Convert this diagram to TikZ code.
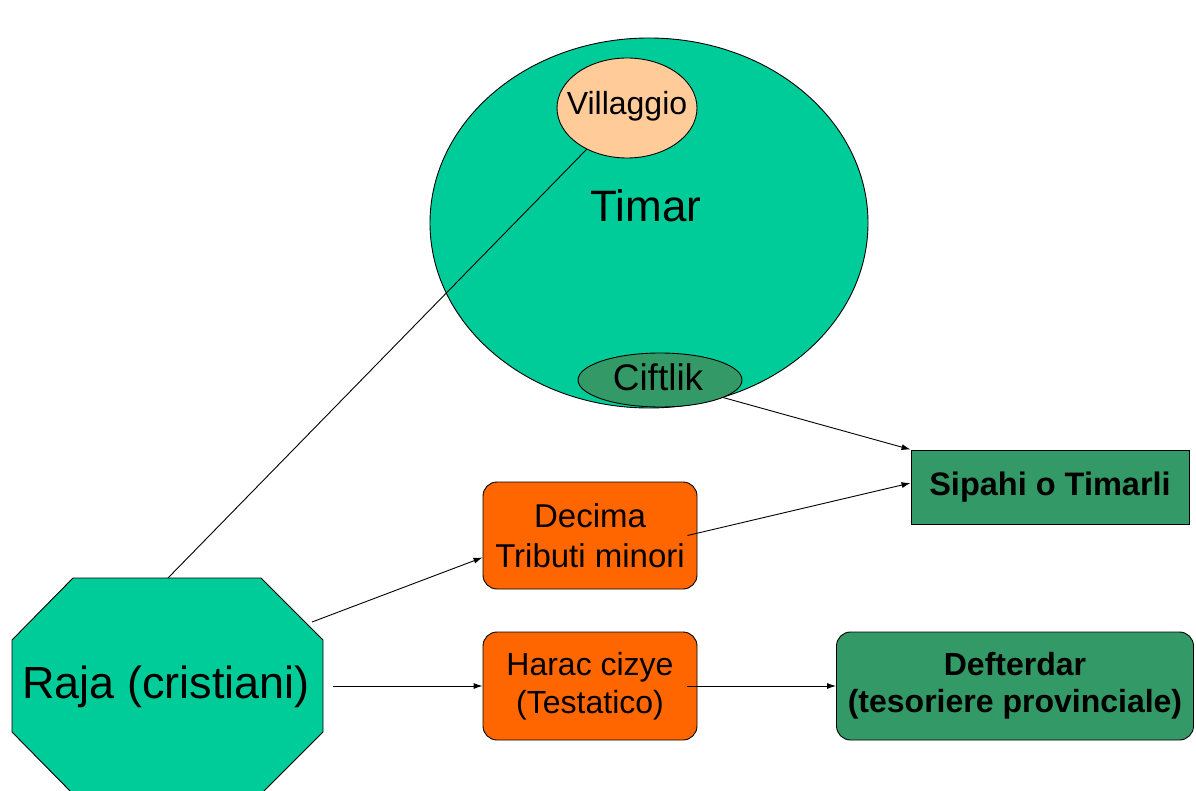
\documentclass[tikz,border=0pt]{standalone}
\usepackage{fontspec}
\setmainfont{Liberation Sans}
\usetikzlibrary{shapes.geometric,arrows.meta,calc}
\definecolor{tealfill}{HTML}{00CC99}
\definecolor{peachfill}{HTML}{FFCC99}
\definecolor{dgreenfill}{HTML}{339966}
\definecolor{orangefill}{HTML}{FF6600}
\begin{document}
\begin{tikzpicture}[x=1pt,y=-1pt,
  conn/.style={draw=black, line width=0.9pt},
  arr/.style={conn, -{Latex[length=9pt,width=6pt]}},
  outline/.style={draw=black, line width=0.9pt},
  rbox/.style={outline, rounded corners=14pt, inner sep=0pt, align=center},
  lbl/.style={anchor=base, inner sep=0pt},
  ell/.style={ellipse, outline, inner sep=0pt}]
\useasboundingbox (0,0) rectangle (1196,791);
\clip (0,0) rectangle (1196,791);

% Timar
\node[ell, fill=tealfill, minimum width=438, minimum height=370] (timar) at (649,223) {};
\node[lbl, font=\fontsize{44}{50}\selectfont] (timarlbl) at (646,222) {Timar};
% Villaggio
\node[ell, fill=peachfill, minimum width=140, minimum height=100] (vill) at (627,108) {};
\node[lbl, font=\fontsize{32}{38}\selectfont] (villlbl) at (627,115) {Villaggio};
% Ciftlik
\node[ell, fill=dgreenfill, minimum width=164, minimum height=54] (cif) at (660,380) {};
\node[lbl, font=\fontsize{37}{42}\selectfont] (ciflbl) at (658,390) {Ciftlik};

% Sipahi
\node[outline, fill=dgreenfill, minimum width=278, minimum height=74, inner sep=0pt,
      font=\fontsize{32.5}{38}\selectfont\bfseries] (sip) at (1050,487) {Sipahi o Timarli};
% Decima
\node[rbox, fill=orangefill, minimum width=214, minimum height=107,
      font=\fontsize{33}{40}\selectfont] (dec) at (590,535.5) {Decima\\Tributi minori};
% Harac
\node[rbox, fill=orangefill, minimum width=214, minimum height=108,
      font=\fontsize{32}{38}\selectfont] (harac) at (590,686) {Harac cizye\\(Testatico)};
% Defterdar
\node[rbox, fill=dgreenfill, minimum width=357, minimum height=108,
      font=\fontsize{32}{37}\selectfont\bfseries] (deft) at (1015,686) {Defterdar\\(tesoriere provinciale)};

% Raja octagon
\draw[outline, fill=tealfill] (73,578) -- (261,578) -- (323,640) -- (323,732) -- (261,794)
   -- (73,794) -- (12,732) -- (12,640) -- cycle;
\node[lbl, font=\fontsize{45}{50}\selectfont] (raja) at (166,698) {Raja (cristiani)};
\coordinate (rajaN) at (168,578);
\coordinate (rajaNE) at (312,622);
\coordinate (rajaE) at (333,686);

% connectors
\draw[conn] (vill) -- (rajaN);
\draw[arr] (cif) -- (sip.north west);
\draw[arr] ($(dec.east)+(-10,0)$) -- ($(sip.west)+(0,-4)$);
\draw[arr] (rajaNE) -- ($(dec.west)+(0,22)$);
\draw[arr] (rajaE) -- (harac.west);
\draw[arr] ($(harac.east)+(-10,0)$) -- (deft.west);
\end{tikzpicture}
\end{document}
